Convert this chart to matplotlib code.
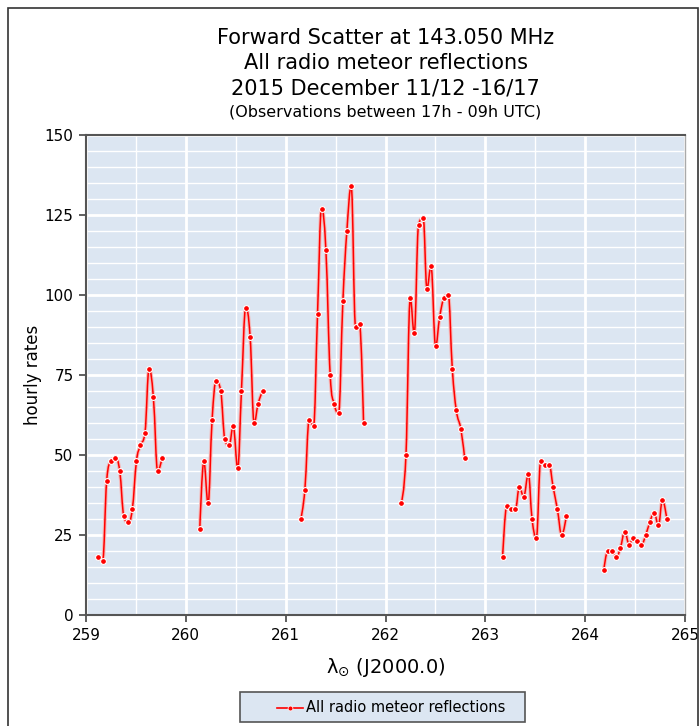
import matplotlib.pyplot as plt
from matplotlib.path import Path
from matplotlib.patches import PathPatch, Rectangle
from matplotlib.lines import Line2D
from matplotlib.ticker import MultipleLocator

# solar longitude (deg) and hourly counts, one list per night
lon_1 = [259.123, 259.167, 259.207, 259.250, 259.294, 259.338, 259.378, 259.421,
         259.464, 259.505, 259.545, 259.591, 259.632, 259.675, 259.718, 259.762]
rate_1 = [18, 17, 42, 48, 49, 45, 31, 29, 33, 48, 53, 57, 77, 68, 45, 49]

lon_2 = [260.140, 260.180, 260.223, 260.263, 260.303, 260.350, 260.390, 260.434,
         260.474, 260.520, 260.557, 260.600, 260.644, 260.684, 260.724, 260.768]
rate_2 = [27, 48, 35, 61, 73, 70, 55, 53, 59, 46, 70, 96, 87, 60, 66, 70]

lon_3 = [261.152, 261.192, 261.236, 261.279, 261.319, 261.359, 261.403, 261.446,
         261.486, 261.530, 261.573, 261.613, 261.657, 261.700, 261.740, 261.780]
rate_3 = [30, 39, 61, 59, 94, 127, 114, 75, 66, 63, 98, 120, 134, 90, 91, 60]

lon_4 = [262.158, 262.205, 262.248, 262.288, 262.331, 262.378, 262.415, 262.456,
         262.502, 262.542, 262.586, 262.629, 262.669, 262.709, 262.756, 262.793]
rate_4 = [35, 50, 99, 88, 122, 124, 102, 109, 84, 93, 99, 100, 77, 64, 58, 49]

lon_5 = [263.173, 263.214, 263.258, 263.301, 263.341, 263.384, 263.431, 263.468,
         263.511, 263.554, 263.595, 263.639, 263.679, 263.722, 263.765, 263.812]
rate_5 = [18, 34, 33, 33, 40, 37, 44, 30, 24, 48, 47, 47, 40, 33, 25, 31]

lon_6 = [264.186, 264.226, 264.270, 264.313, 264.353, 264.397, 264.441, 264.481,
         264.524, 264.564, 264.607, 264.647, 264.691, 264.734, 264.774, 264.818]
rate_6 = [14, 20, 20, 18, 21, 26, 22, 24, 23, 22, 25, 29, 32, 28, 36, 30]

nights = [(lon_1, rate_1), (lon_2, rate_2), (lon_3, rate_3),
          (lon_4, rate_4), (lon_5, rate_5), (lon_6, rate_6)]

RED = "#ff0000"
BG = "#dce6f2"
W, H = 699, 726


def spline_path(xs, ys, smoothing=1.5):
    """Cubic Bezier path through the points (Highcharts-style spline)."""
    n = len(xs)
    left = [(x, y) for x, y in zip(xs, ys)]
    right = [(x, y) for x, y in zip(xs, ys)]
    for i in range(1, n - 1):
        x, y = xs[i], ys[i]
        lx, ly = xs[i - 1], ys[i - 1]
        nx, ny = xs[i + 1], ys[i + 1]
        lcx = (smoothing * x + lx) / (smoothing + 1)
        lcy = (smoothing * y + ly) / (smoothing + 1)
        rcx = (smoothing * x + nx) / (smoothing + 1)
        rcy = (smoothing * y + ny) / (smoothing + 1)
        corr = (rcy - lcy) * (rcx - x) / (rcx - lcx) + y - rcy
        lcy += corr
        rcy += corr
        if lcy > ly and lcy > y:
            lcy = max(ly, y)
            rcy = 2 * y - lcy
        elif lcy < ly and lcy < y:
            lcy = min(ly, y)
            rcy = 2 * y - lcy
        if rcy > ny and rcy > y:
            rcy = max(ny, y)
            lcy = 2 * y - rcy
        elif rcy < ny and rcy < y:
            rcy = min(ny, y)
            lcy = 2 * y - rcy
        left[i] = (lcx, lcy)
        right[i] = (rcx, rcy)
    verts = [(xs[0], ys[0])]
    codes = [Path.MOVETO]
    for i in range(1, n):
        verts += [right[i - 1], left[i], (xs[i], ys[i])]
        codes += [Path.CURVE4] * 3
    return Path(verts, codes)


fig = plt.figure(figsize=(W / 100, H / 100), dpi=100)
ax = fig.add_axes([86 / W, 111 / H, 599 / W, 480 / H])
ax.set_facecolor(BG)

# frame around the whole chart
fig.patches.append(Rectangle((8 / W, -0.05), 690 / W, 1.05 - 8 / H,
                             transform=fig.transFigure, fill=False,
                             edgecolor="#333333", linewidth=1.2))

ax.set_xlim(259, 265)
ax.set_ylim(0, 150)
ax.xaxis.set_major_locator(MultipleLocator(1))
ax.xaxis.set_minor_locator(MultipleLocator(0.5))
ax.yaxis.set_major_locator(MultipleLocator(25))
ax.yaxis.set_minor_locator(MultipleLocator(5))
ax.grid(which="major", color="white", linewidth=2.0)
ax.grid(which="minor", color="white", linewidth=1.0)
ax.set_axisbelow(True)
ax.tick_params(which="major", length=5, width=1.2, color="#444444",
               labelsize=11, pad=4)
ax.tick_params(which="minor", length=0)
for side in ["left", "bottom", "top"]:
    ax.spines[side].set_color("#555555")
    ax.spines[side].set_linewidth(1.5)
ax.spines["right"].set_color("#aaaaaa")
ax.spines["right"].set_linewidth(1.0)

for xs, ys in nights:
    ax.add_patch(PathPatch(spline_path(xs, ys), facecolor="none",
                           edgecolor="#f5b8b8", linewidth=2.6, zorder=3))
    ax.add_patch(PathPatch(spline_path(xs, ys), facecolor="none",
                           edgecolor=RED, linewidth=1.1, zorder=4))
    ax.plot(xs, ys, linestyle="none", marker="o", markersize=4.2,
            markerfacecolor=RED, markeredgecolor="white",
            markeredgewidth=0.8, zorder=5)

ax.set_ylabel("hourly rates", fontsize=12, labelpad=2)
ax.set_xlabel(r"$\mathrm{\lambda}_{\odot}$ (J2000.0)", fontsize=14,
              labelpad=10)

cx = (86 + 685) / 2 / W
fig.text(cx, 1 - 38 / H, "Forward Scatter at 143.050 MHz", ha="center",
         va="center", fontsize=15)
fig.text(cx, 1 - 63 / H, "All radio meteor reflections", ha="center",
         va="center", fontsize=15)
fig.text(cx, 1 - 88 / H, "2015 December 11/12 -16/17", ha="center",
         va="center", fontsize=15)
fig.text(cx, 1 - 112 / H, "(Observations between 17h - 09h UTC)",
         ha="center", va="center", fontsize=11.5)

# legend box below the plot
fig.patches.append(Rectangle((240 / W, 1 - 722 / H), 285 / W, 30 / H,
                             transform=fig.transFigure, facecolor=BG,
                             edgecolor="#555555", linewidth=1.2))
fig.lines.append(Line2D([277 / W, 303 / W], [1 - 708 / H, 1 - 708 / H],
                        transform=fig.transFigure, color=RED, linewidth=1.2))
fig.lines.append(Line2D([290 / W], [1 - 708 / H], transform=fig.transFigure,
                        linestyle="none", marker="o", markersize=3.5,
                        markerfacecolor=RED, markeredgecolor="white",
                        markeredgewidth=0.5))
fig.text(306 / W, 1 - 708 / H, "All radio meteor reflections", ha="left",
         va="center", fontsize=10.5)

fig.savefig("out.png", dpi=100)
